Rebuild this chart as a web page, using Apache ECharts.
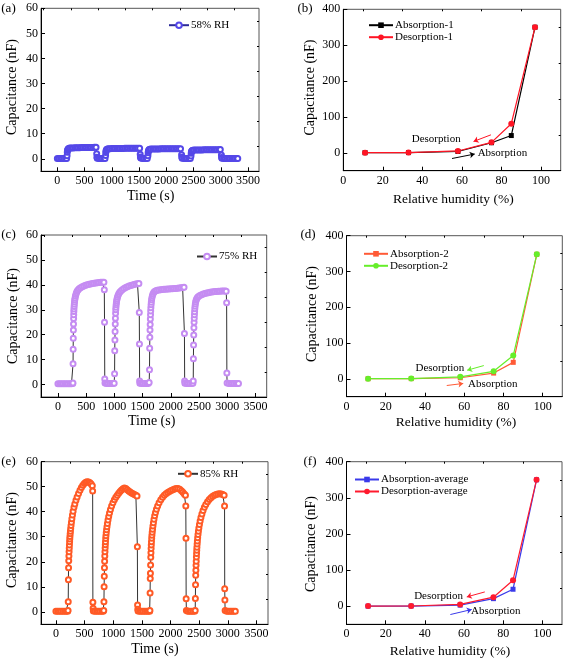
<!DOCTYPE html>
<html><head><meta charset="utf-8">
<script src="https://cdn.jsdelivr.net/npm/echarts@6/dist/echarts.min.js"></script>
<style>html,body{margin:0;padding:0;background:#fff}#c{width:567px;height:659px}</style>
</head><body><div id="c"></div>
<script>
// ---------- tick labels ----------
const timeTicks = [0, 500, 1000, 1500, 2000, 2500, 3000, 3500];
const timeMinor = [-250, 250, 750, 1250, 1750, 2250, 2750, 3250];
const capTicks = [0, 10, 20, 30, 40, 50, 60];
const capMinor = [5, 15, 25, 35, 45, 55];
const rhTicks = [0, 20, 40, 60, 80, 100];
const rhMinor = [10, 30, 50, 70, 90];
const capRhTicks = [0, 100, 200, 300, 400];
const capRhMinor = [50, 150, 250, 350];

// ---------- data: time responses [time (s), capacitance (nF)] ----------
const rh58 = [
[0,0.1],[30,0.1],[60,0.1],[90,0.1],[120,0.1],[150,0.1],[170,0.1],
[178,1.2],[182,2.6],[186,3.3],[192,3.7],[200,3.95],[215,4.15],[235,4.25],
[260,4.3],[290,4.34],[320,4.37],[350,4.4],[380,4.42],[410,4.44],[440,4.45],[470,4.46],[500,4.47],[530,4.48],[560,4.5],[590,4.5],[620,4.52],[650,4.53],[680,4.55],[710,4.56],
[722,2.0],[726,0.6],[732,0.25],
[760,0.15],[790,0.12],[820,0.1],[850,0.1],[875,0.1],
[885,1.3],[889,2.5],[893,3.1],[899,3.5],[907,3.75],[922,3.9],[942,4.0],
[970,4.03],[1000,4.05],[1030,4.07],[1060,4.09],[1090,4.1],[1120,4.11],[1150,4.12],[1180,4.13],[1210,4.14],[1240,4.15],[1270,4.16],[1300,4.17],[1330,4.18],[1360,4.19],[1390,4.2],[1420,4.21],[1450,4.22],[1480,4.23],[1510,4.24],
[1520,1.8],[1524,0.7],[1530,0.3],
[1560,0.15],[1590,0.12],[1620,0.1],[1650,0.1],
[1662,1.2],[1666,2.4],[1670,3.0],[1676,3.4],[1684,3.65],[1699,3.8],[1719,3.88],
[1750,3.9],[1780,3.91],[1810,3.92],[1840,3.93],[1870,3.94],[1900,3.95],[1930,3.96],[1960,3.97],[1990,3.97],[2020,3.98],[2050,3.98],[2080,3.99],[2110,4.0],[2140,4.0],[2170,4.01],[2200,4.02],[2230,4.03],[2260,4.04],
[2280,1.6],[2284,0.6],[2290,0.25],
[2320,0.15],[2350,0.12],[2380,0.1],[2410,0.1],[2440,0.1],
[2452,1.1],[2456,2.2],[2460,2.8],[2466,3.1],[2474,3.3],[2489,3.42],[2509,3.48],
[2540,3.5],[2570,3.51],[2600,3.52],[2630,3.53],[2660,3.54],[2690,3.55],[2720,3.56],[2750,3.57],[2780,3.58],[2810,3.59],[2840,3.6],[2870,3.61],[2900,3.62],[2930,3.63],[2960,3.64],[2990,3.65],
[3010,1.5],[3014,0.5],[3020,0.2],
[3050,0.1],[3080,0.1],[3110,0.1],[3140,0.1],[3170,0.1],[3200,0.1],[3230,0.1],[3260,0.1],[3290,0.1],[3310,0.1]
];
const rh75 = [
[0,0.3],[30,0.3],[60,0.3],[90,0.3],[120,0.3],[150,0.3],[180,0.3],[210,0.3],[240,0.3],[262,0.4],
[266,0.6],[268,8.3],[270,14.2],[272,18.6],[274,21.9],[276,24.3],[278,26.5],[280,28.0],[282,29.3],[284,30.3],[287,31.3],[290,32.2],[294,33.1],[298,33.9],[303,34.6],[310,35.4],[318,36.1],[328,36.8],[340,37.4],[355,37.9],[375,38.4],[400,38.8],[430,39.2],[460,39.5],[490,39.8],[520,40.0],[550,40.2],[580,40.35],[610,40.5],[640,40.6],[670,40.7],[700,40.8],[730,40.9],[760,41.0],[790,41.0],[815,41.0],
[822,38.0],[826,25.0],[830,2.2],[834,0.6],
[860,0.4],[890,0.4],[920,0.4],[950,0.4],[980,0.4],[997,0.5],
[1004,4.3],[1007,13.6],[1010,17.9],[1013,21.3],[1016,24.3],[1019,26.6],[1022,28.6],[1025,30.0],[1028,31.0],[1032,32.0],[1036,32.8],[1041,33.6],[1047,34.3],[1055,35.0],[1065,35.7],[1078,36.4],[1095,37.0],[1115,37.5],[1140,38.0],[1170,38.5],[1200,38.9],[1230,39.2],[1260,39.5],[1290,39.7],[1320,39.9],[1350,40.1],[1380,40.3],[1410,40.4],[1435,40.5],
[1442,28.9],[1445,16.3],[1448,1.4],[1452,0.5],
[1480,0.4],[1510,0.4],[1540,0.4],[1570,0.4],[1600,0.4],[1617,0.8],
[1623,5.9],[1626,14.6],[1629,19.0],[1632,21.9],[1635,24.1],[1638,26.3],[1641,28.0],[1644,29.5],[1647,30.8],[1651,32.0],[1655,33.0],[1660,34.0],[1666,34.8],[1674,35.6],[1684,36.3],[1697,36.9],[1713,37.3],[1735,37.6],[1760,37.8],[1790,37.95],[1820,38.05],[1850,38.1],[1880,38.2],[1910,38.25],[1940,38.3],[1970,38.35],[2000,38.4],[2030,38.45],[2060,38.5],[2090,38.55],[2120,38.6],[2150,38.7],[2180,38.8],[2210,38.9],[2235,39.0],
[2242,20.5],[2246,1.4],[2250,0.5],
[2280,0.4],[2310,0.4],[2340,0.4],[2370,0.4],[2392,0.5],
[2398,1.4],[2401,10.3],[2404,15.9],[2407,19.9],[2410,22.8],[2413,25.0],[2416,26.6],[2419,28.0],[2422,29.2],[2426,30.4],[2430,31.4],[2435,32.3],[2441,33.1],[2449,33.8],[2459,34.4],[2472,34.9],[2490,35.3],[2515,35.7],[2545,36.0],[2575,36.3],[2605,36.5],[2635,36.7],[2665,36.85],[2695,37.0],[2725,37.1],[2755,37.2],[2785,37.3],[2815,37.35],[2845,37.4],[2875,37.45],[2905,37.5],[2935,37.5],[2965,37.5],[2982,37.4],
[2990,32.8],[2994,4.6],[2998,0.6],
[3030,0.4],[3060,0.4],[3090,0.4],[3120,0.4],[3150,0.4],[3180,0.4],[3200,0.4]
];
const rh85 = [
[0,0.2],[30,0.2],[60,0.2],[90,0.2],[120,0.2],[150,0.2],[180,0.2],[205,0.2],
[212,0.5],[215,4.0],[218,12.8],[221,17.6],[224,20.4],[227,22.3],[230,24.0],[233,25.4],[236,26.7],[239,28.0],[242,29.1],[245,30.1],[249,31.2],[253,32.2],[258,33.3],[264,34.5],[271,35.8],[279,37.2],[289,38.7],[300,40.2],[315,41.8],[330,43.1],[350,44.6],[370,45.9],[395,47.3],[420,48.6],[445,49.7],[470,50.6],[495,51.3],[520,51.8],[545,52.0],[570,51.9],[595,51.6],[615,51.1],[635,50.4],
[641,48.3],[645,3.8],[649,1.4],[653,0.3],
[680,0.2],[710,0.2],[740,0.2],[770,0.2],[800,0.2],[825,0.2],
[835,0.5],[838,4.0],[841,10.0],[844,14.2],[847,17.6],[850,20.2],[853,22.3],[856,24.0],[859,25.5],[862,26.8],[865,28.0],[869,29.3],[873,30.4],[878,31.6],[884,32.8],[891,34.0],[899,35.3],[909,36.7],[921,38.1],[935,39.5],[952,40.9],[972,42.3],[995,43.6],[1020,44.8],[1045,45.8],[1070,46.6],[1095,47.4],[1120,48.1],[1145,48.7],[1170,49.2],[1195,49.5],[1220,49.3],[1245,48.8],[1270,48.3],[1295,47.9],[1320,47.5],[1345,47.2],[1370,46.9],[1395,46.6],[1415,46.3],
[1421,26.0],[1425,2.7],[1429,1.0],[1433,0.3],
[1460,0.2],[1490,0.2],[1520,0.2],[1550,0.2],[1580,0.2],[1610,0.2],[1635,0.2],
[1640,0.5],[1643,7.5],[1646,13.3],[1649,15.4],[1652,18.7],[1655,21.8],[1658,23.6],[1661,25.3],[1664,26.7],[1667,28.0],[1671,29.4],[1675,30.6],[1680,31.8],[1686,33.0],[1693,34.3],[1701,35.6],[1711,37.0],[1723,38.4],[1737,39.7],[1754,41.0],[1775,42.3],[1800,43.6],[1830,44.8],[1860,45.8],[1890,46.6],[1920,47.2],[1950,47.7],[1980,48.1],[2010,48.5],[2040,48.8],[2070,49.1],[2100,49.3],[2130,49.3],[2160,49.0],[2190,48.4],[2215,47.8],[2240,47.1],[2260,46.6],
[2266,42.3],[2269,29.4],[2272,5.2],[2276,0.5],
[2300,0.2],[2330,0.2],[2360,0.2],[2390,0.2],[2420,0.2],
[2430,0.5],[2433,5.3],[2436,10.8],[2439,14.6],[2442,16.6],[2445,18.6],[2448,20.2],[2451,21.9],[2454,23.3],[2457,24.6],[2460,25.8],[2464,27.1],[2468,28.3],[2473,29.6],[2479,30.9],[2486,32.2],[2494,33.5],[2504,34.9],[2516,36.3],[2530,37.7],[2547,39.1],[2567,40.5],[2590,41.8],[2615,42.9],[2645,44.0],[2675,44.9],[2705,45.6],[2735,46.2],[2765,46.6],[2795,46.9],[2825,47.1],[2855,47.2],[2885,47.1],[2910,46.9],[2935,46.6],
[2942,42.3],[2945,9.2],[2948,4.7],[2952,0.5],
[2980,0.2],[3010,0.2],[3040,0.2],[3070,0.2],[3100,0.2],[3130,0.2]
];

// ---------- data: capacitance vs relative humidity ----------
const rhLevels = [11, 33, 58, 75, 85, 97];
const absorption1 = [0.2, 0.5, 3.5, 28, 48, 350];
const desorption1 = [0.3, 0.6, 5, 29, 81, 350];
const absorption2 = [0.2, 0.5, 3, 16, 46, 348];
const desorption2 = [0.3, 0.6, 5.5, 21, 65, 348];
const absorptionAvg = [0.2, 0.5, 3, 21, 47, 350];
const desorptionAvg = [0.3, 0.6, 5, 25, 72, 350];

const FONT = '"Liberation Serif","Times New Roman",serif';
const pairs = (xs, ys) => xs.map((x, i) => [x, ys[i]]);
const plain = v => String(v);

const grids = [
  {left: 41, top: 8.3, width: 218, height: 163},
  {left: 343.3, top: 9.3, width: 217.4, height: 161.4},
  {left: 41, top: 235, width: 225.7, height: 162},
  {left: 346.5, top: 235.7, width: 215.8, height: 161},
  {left: 41, top: 461.7, width: 227, height: 162.6},
  {left: 346.5, top: 461.7, width: 215.5, height: 162.6}
].map(g => Object.assign({show: true, borderColor: '#555', borderWidth: 1, backgroundColor: '#fff', containLabel: false, outerBoundsMode: 'none'}, g));

const xRanges = [[-300, 3700], [0, 110], [-300, 3700], [0, 110], [-260, 3700], [0, 110]];
const yRanges = [[-5, 60], [-50, 400], [-5, 60], [-50, 400], [-5, 60], [-50, 400]];
const isTime = i => i % 2 === 0;

const xAxes = [], yAxes = [];
for (let i = 0; i < 6; i++) {
  const xt = isTime(i) ? timeTicks : rhTicks;
  const yt = isTime(i) ? capTicks : capRhTicks;
  xAxes.push({type: 'value', gridIndex: i, min: xRanges[i][0], max: xRanges[i][1],
    axisLine: {onZero: false, lineStyle: {color: '#000', width: 1}},
    axisTick: {inside: true, length: 4, customValues: xt, lineStyle: {color: '#000'}},
    axisLabel: {customValues: xt, formatter: plain, margin: 4, color: '#000', fontSize: 12, fontFamily: FONT, hideOverlap: false},
    splitLine: {show: false}});
  yAxes.push({type: 'value', gridIndex: i, min: yRanges[i][0], max: yRanges[i][1],
    axisLine: {onZero: false, lineStyle: {color: '#000', width: 1}},
    axisTick: {inside: true, length: 4, customValues: yt, lineStyle: {color: '#000'}},
    axisLabel: {customValues: yt, formatter: plain, margin: 3, color: '#000', fontSize: 12, fontFamily: FONT, hideOverlap: false},
    splitLine: {show: false}});
}
for (let i = 0; i < 6; i++) {
  const xm = isTime(i) ? timeMinor : rhMinor;
  const ym = isTime(i) ? capMinor : capRhMinor;
  xAxes.push({type: 'value', gridIndex: i, min: xRanges[i][0], max: xRanges[i][1],
    axisLine: {show: false, onZero: false}, axisLabel: {show: false}, splitLine: {show: false},
    axisTick: {inside: true, length: 2, customValues: xm, lineStyle: {color: '#000'}}});
  yAxes.push({type: 'value', gridIndex: i, min: yRanges[i][0], max: yRanges[i][1],
    axisLine: {show: false, onZero: false}, axisLabel: {show: false}, splitLine: {show: false},
    axisTick: {inside: true, length: 2, customValues: ym, lineStyle: {color: '#000'}}});
}

function timeSeries(name, data, gi, markColor, lineColor) {
  return {type: 'line', name, data, xAxisIndex: gi, yAxisIndex: gi,
    symbol: 'emptyCircle', symbolSize: 5, showAllSymbol: true, sampling: 'none',
    itemStyle: {color: markColor, borderWidth: 1},
    lineStyle: {color: lineColor, width: 1}, z: 3};
}
function annot(texts, arrows) {
  return {
    markPoint: {silent: true, animation: false, symbol: 'circle', symbolSize: 1,
      itemStyle: {color: 'rgba(0,0,0,0)'},
      label: {show: true, position: 'inside', color: '#000', fontSize: 11, fontFamily: FONT},
      data: texts.map(t => ({coord: [t[0], t[1]], label: {formatter: t[2]}}))},
    markLine: {silent: true, animation: false, symbol: ['none', 'arrow'], symbolSize: 5,
      label: {show: false}, emphasis: {disabled: true},
      data: arrows.map(a => [
        {coord: [a[0], a[1]], symbol: 'none', lineStyle: {color: a[4], width: 1, type: 'solid'}, itemStyle: {color: a[4]}},
        {coord: [a[2], a[3]], symbol: 'arrow', symbolSize: 5, itemStyle: {color: a[4]}}])}
  };
}
function rhSeries(name, ys, gi, color, symbol, size, extra) {
  return Object.assign({type: 'line', name, data: pairs(rhLevels, ys), xAxisIndex: gi, yAxisIndex: gi,
    symbol, symbolSize: size, showAllSymbol: true,
    itemStyle: {color}, lineStyle: {color, width: 1.2}, z: 3}, extra || {});
}

const series = [
  timeSeries('58% RH', rh58, 0, '#5548e8', '#2b2a9a'),
  timeSeries('75% RH', rh75, 2, '#c58cf2', '#333333'),
  timeSeries('85% RH', rh85, 4, '#ff5a26', '#333333'),
  rhSeries('Absorption-1', absorption1, 1, '#000000', 'rect', 5,
    annot([[80.5, -2, 'Absorption']], [[55, -16, 66.5, -3.5, '#000000']])),
  rhSeries('Desorption-1', desorption1, 1, '#ff1424', 'circle', 6,
    annot([[47, 39, 'Desorption']], [[74.7, 50, 65.9, 31.5, '#ff1424']])),
  rhSeries('Absorption-2', absorption2, 3, '#ff5a36', 'rect', 5,
    annot([[74.6, -15, 'Absorption']], [[51.1, -18.7, 59.5, -13, '#ff5a36']])),
  rhSeries('Desorption-2', desorption2, 3, '#66ee2a', 'circle', 6,
    annot([[47.6, 28.7, 'Desorption']], [[70, 37, 61.5, 24, '#66ee2a']])),
  rhSeries('Absorption-average', absorptionAvg, 5, '#3a3aea', 'rect', 5,
    annot([[76.2, -13.9, 'Absorption']], [[53, -23, 63.9, -9, '#3a3aea']])),
  rhSeries('Desorption-average', desorptionAvg, 5, '#ff1a2e', 'circle', 6,
    annot([[47, 27.7, 'Desorption']], [[70.6, 39.6, 61.4, 25.8, '#ff1a2e']]))
];

const legendBase = {orient: 'vertical', padding: 0, itemGap: 1, itemHeight: 7, selectedMode: false,
  textStyle: {fontFamily: FONT, fontSize: 11, color: '#000', padding: [0, 0, 0, -3]}};
const legends = [
  {data: ['58% RH'], left: 168, top: 19.7, itemWidth: 20},
  {data: ['Absorption-1', 'Desorption-1'], left: 368, top: 19.7, itemWidth: 24},
  {data: ['75% RH'], left: 196, top: 251, itemWidth: 20},
  {data: ['Absorption-2', 'Desorption-2'], left: 363, top: 248.3, itemWidth: 24},
  {data: ['85% RH'], left: 177, top: 468.3, itemWidth: 20},
  {data: ['Absorption-average', 'Desorption-average'], left: 354, top: 474, itemWidth: 24}
].map(l => Object.assign({}, legendBase, l));

const graphics = [];
function txt(x, y, text, size, rot) {
  graphics.push({type: 'text', x, y, rotation: rot || 0, silent: true,
    style: {text, font: size + 'px ' + FONT, fill: '#000', align: 'center', verticalAlign: 'middle'}});
}
txt(8.5, 8.3, '(a)', 13); txt(305, 8.3, '(b)', 13);
txt(8.5, 235, '(c)', 13); txt(308, 235, '(d)', 13);
txt(8.5, 461.7, '(e)', 13); txt(310, 461.7, '(f)', 13);
const V = Math.PI / 2;
txt(12.5, 87, 'Capacitance (nF)', 14, V); txt(310.7, 87.5, 'Capacitance (nF)', 14, V);
txt(13, 316, 'Capacitance (nF)', 14, V); txt(312.3, 314, 'Capacitance (nF)', 14, V);
txt(12, 540, 'Capacitance (nF)', 14, V); txt(311.7, 544, 'Capacitance (nF)', 14, V);
txt(150.7, 196, 'Time (s)', 14); txt(151.7, 421.7, 'Time (s)', 14); txt(155, 649.3, 'Time (s)', 14);
txt(453.3, 199.3, 'Relative humidity (%)', 13.5); txt(456, 422.7, 'Relative humidity (%)', 13.5); txt(450, 651, 'Relative humidity (%)', 13.5);

const chart = echarts.init(document.getElementById('c'), null, {renderer: 'canvas'});
chart.setOption({
  animation: false,
  backgroundColor: '#fff',
  textStyle: {fontFamily: FONT},
  grid: grids, xAxis: xAxes, yAxis: yAxes,
  legend: legends, series, graphic: graphics
});
</script></body></html>
